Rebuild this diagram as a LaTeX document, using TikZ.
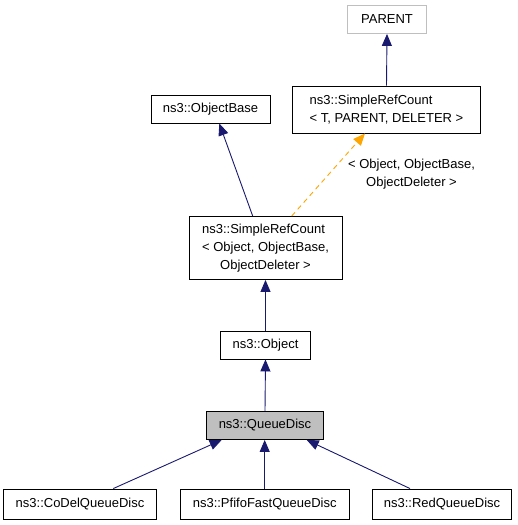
\documentclass[tikz,border=0pt]{standalone}
\usepackage{fontspec}
\setmainfont{Liberation Sans}
\usetikzlibrary{arrows.meta,calc}
\definecolor{edgeblue}{HTML}{191970}
\definecolor{tmplorange}{HTML}{FFA500}
\definecolor{boxgray}{HTML}{BFBFBF}
\begin{document}
\begin{tikzpicture}[x=1pt,y=-1pt,
  every node/.style={font=\fontsize{13}{17.5}\selectfont, inner sep=0pt},
  cls/.style={draw=black, line width=0.9pt, fill=white},
  inh/.style={draw=edgeblue, line width=0.9pt, -{Triangle[length=12pt,width=10pt]}},
  tmpl/.style={draw=tmplorange, line width=0.9pt, dashed, dash pattern=on 5pt off 4pt, -{Triangle[length=12pt,width=10pt]}}]
\useasboundingbox (0,0) rectangle (517,525);

\node[draw=boxgray, line width=0.9pt, fill=white, minimum width=79pt, minimum height=28pt] (parent) at (387,19.5) {PARENT};
\node[cls, minimum width=188pt, minimum height=47pt] (srct) at (386.5,109.5)
  {\begin{tabular}{@{}l@{}}ns3::SimpleRefCount\\[0.5pt] {<} T, PARENT, DELETER {>}\end{tabular}};
\node[cls, minimum width=119pt, minimum height=28pt] (objbase) at (210.5,109) {ns3::ObjectBase};
\node[cls, minimum width=153pt, minimum height=63pt] (srco) at (265.5,248)
  {\begin{tabular}{@{}l@{}}ns3::SimpleRefCount\\[0.5pt] {<} Object, ObjectBase,\\[0.5pt] \multicolumn{1}{@{}c@{}}{ObjectDeleter {>}}\end{tabular}};
\node[cls, minimum width=90pt, minimum height=28pt] (object) at (265.5,345) {ns3::Object};
\node[draw=black, line width=0.9pt, fill=boxgray, minimum width=117pt, minimum height=28pt] (qd) at (265,425.5) {ns3::QueueDisc};
\node[cls, minimum width=153pt, minimum height=30pt] (codel) at (80,504) {ns3::CoDelQueueDisc};
\node[cls, minimum width=169pt, minimum height=30pt] (pfifo) at (264.7,504) {ns3::PfifoFastQueueDisc};
\node[cls, minimum width=139pt, minimum height=30pt] (red) at (442,504) {ns3::RedQueueDisc};

\draw[inh] (srct.north) -- (parent.south);
\draw[inh] ($(srco.north)+(-12.8,0)$) -- ($(objbase.south)+(8.8,0)$);
\draw[tmpl] ($(srco.north)+(26.2,0)$) -- ($(srct.south)+(-21.5,0)$);
\node[align=center] (lbl) at (411.5,174) {{<} Object, ObjectBase,\\ ObjectDeleter {>}};
\draw[inh] (object.north) -- (srco.south);
\draw[inh] (qd.north) -- (object.south);
\draw[inh] ($(codel.north)+(33.3,0)$) -- ($(qd.south)+(-43.3,0)$);
\draw[inh] (pfifo.north) -- (pfifo.north |- qd.south);
\draw[inh] ($(red.north)+(-32,0)$) -- ($(qd.south)+(41.7,0)$);
\end{tikzpicture}
\end{document}
